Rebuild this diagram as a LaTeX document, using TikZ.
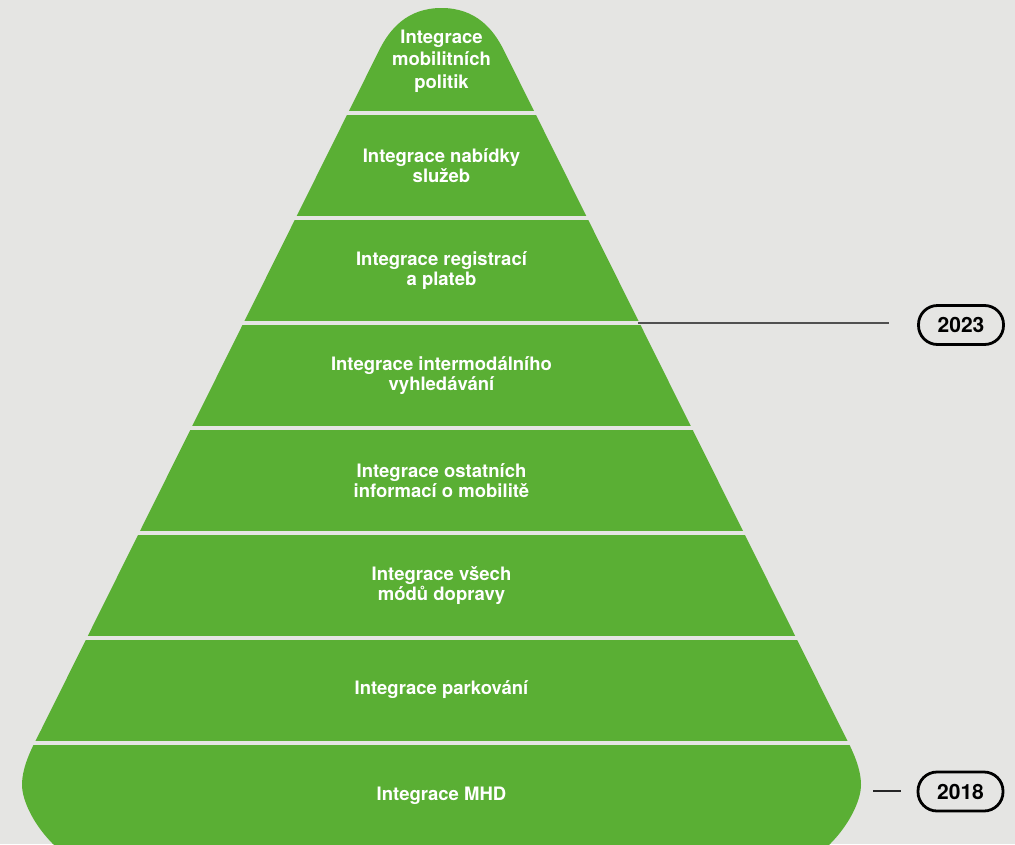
\documentclass[tikz,border=0pt]{standalone}
\usepackage{fontspec}
\setmainfont{TeX Gyre Heros}
\definecolor{bg}{RGB}{229,229,227}
\definecolor{pgreen}{RGB}{90,175,52}
\definecolor{connc}{RGB}{80,80,80}
\begin{document}
\begin{tikzpicture}[x=1pt,y=-1pt,
  lbl/.style={text=white, font=\bfseries\fontsize{18.5}{20}\selectfont, align=center, inner sep=0pt},
  lbltop/.style={lbl, font=\bfseries\fontsize{18.5}{22.5}\selectfont},
  sepline/.style={draw=bg, line width=4pt},
  yearbox/.style={draw=black, line width=2.8pt, rounded corners=19pt, minimum width=85pt, minimum height=39pt, font=\bfseries\fontsize{21}{21}\selectfont, inner sep=0pt},
  connline/.style={draw=connc, line width=2pt}]
\fill[bg] (0,0) rectangle (1015,844);
\useasboundingbox (0,0) rectangle (1015,844);
\clip (0,0) rectangle (1015,844);
% pyramid body
\fill[pgreen] (441.5,8) .. controls (476.5,8) and (493.75,30) .. (503.7,50)
  -- (842,730) .. controls (849.5,745) and (861,765) .. (861,785)
  .. controls (861,808) and (833,860) .. (773,878)
  -- (110,878) .. controls (50,860) and (22,808) .. (22,785)
  .. controls (22,765) and (33.5,745) .. (41,730)
  -- (379.3,50) .. controls (389.25,30) and (406.5,8) .. (441.5,8) -- cycle;
% separators
\foreach \yy in {112.5,217.5,322.5,427.5,532.5,637.5,742.5}{
  \pgfmathsetmacro{\hw}{0.4975*(\yy+75)+6}
  \draw[sepline] ({441.5-\hw},\yy) -- ({441.5+\hw},\yy);
}
% labels
\node[lbltop] (t1) at (441.5,61) {Integrace\\mobilitních\\politik};
\node[lbl] (t2) at (441.5,166) {Integrace nabídky\\služeb};
\node[lbl] (t3) at (441.5,271) {Integrace registrací\\a plateb};
\node[lbl] (t4) at (441.5,376) {Integrace intermodálního\\vyhledávání};
\node[lbl] (t5) at (441.5,481) {Integrace ostatních\\informací o mobilitě};
\node[lbl] (t6) at (441.5,586) {Integrace všech\\módů dopravy};
\node[lbl] (t7) at (441.5,690) {Integrace parkování};
\node[lbl] (t8) at (441.5,796) {Integrace MHD};
% year badges
\node[yearbox] (y2023) at (961,325) {2023};
\node[yearbox] (y2018) at (960.5,791.5) {2018};
% connectors
\coordinate (c23a) at (638,322.5);
\coordinate (c23b) at (889,322.5);
\coordinate (c18a) at (873,791);
\coordinate (c18b) at (901,791);
\draw[connline] (c23a) -- (c23b);
\draw[connline, draw=black!85] (c18a) -- (c18b);
\end{tikzpicture}
\end{document}
